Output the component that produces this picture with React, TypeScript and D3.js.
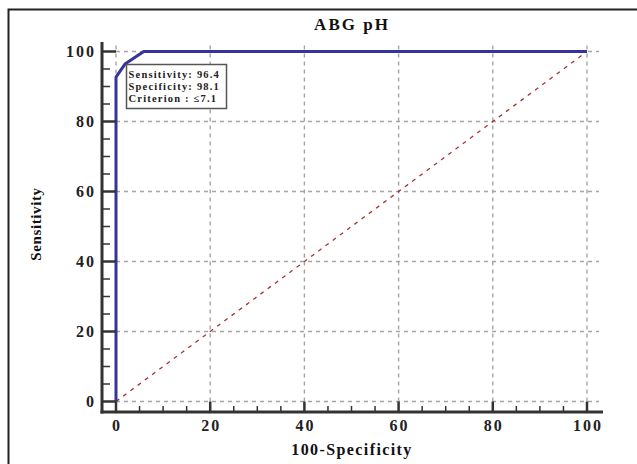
import React from 'react';
import * as d3 from 'd3';

// ROC curve points (100-Specificity, Sensitivity)
const rocX = [0, 0, 1.9, 5.9, 100];
const rocY = [0, 92.7, 96.4, 100, 100];
const majorTicks = [0, 20, 40, 60, 80, 100];
const minorTicks = d3.range(0, 101, 5).filter(v => v % 20 !== 0);
const boxLines = ['Sensitivity: 96.4', 'Specificity: 98.1', 'Criterion : \u22647.1'];
const title = 'ABG pH';
const xTitle = '100-Specificity';
const yTitle = 'Sensitivity';

const W = 637;
const H = 464;
const FONT = '"Liberation Serif", "Times New Roman", serif';

const App = () => {
  const x = d3.scaleLinear().domain([0, 100]).range([116, 587]);
  const y = d3.scaleLinear().domain([0, 100]).range([401.5, 51.5]);
  const axisX = 102;
  const axisY = 412;
  const gridRight = 599;
  const gridTop = 43;

  const rocPts = rocX.map((v, i) => [x(v), y(rocY[i])] as [number, number]);
  const line = d3.line();

  return (
    <svg width={W} height={H} style={{ position: 'absolute', left: 0, top: 0, background: '#fff' }}>
      <rect x={8.5} y={9.5} width={700} height={600} fill="#fff" stroke="#222" strokeWidth={2} />

      <text x={352} y={30} textAnchor="middle" fontFamily={FONT} fontWeight="bold" fontSize={17}
        letterSpacing={2} fill="#111">{title}</text>

      {/* grid */}
      <g stroke="#a5a5a5" strokeWidth={1.4} strokeDasharray="4,4" fill="none">
        {majorTicks.map(t => (
          <line key={'h' + t} x1={x(0)} x2={gridRight} y1={y(t)} y2={y(t)} />
        ))}
        {majorTicks.map(t => (
          <line key={'v' + t} x1={x(t)} x2={x(t)} y1={y(0)} y2={gridTop} />
        ))}
      </g>

      {/* diagonal */}
      <line x1={x(0)} y1={y(0)} x2={x(100)} y2={y(100)} stroke="#a83232" strokeWidth={1.3}
        strokeDasharray="4,5" />

      {/* ROC curve */}
      <path d={line(rocPts) || ''} fill="none" stroke="#34349a" strokeWidth={3} strokeLinejoin="round" />

      {/* axes */}
      <g stroke="#333" fill="none">
        <line x1={axisX} x2={axisX} y1={42} y2={axisY + 1.5} strokeWidth={3} />
        <line x1={axisX - 1.5} x2={603} y1={axisY} y2={axisY} strokeWidth={3} />
        {majorTicks.map(t => (
          <line key={'ym' + t} x1={axisX} x2={x(0)} y1={y(t)} y2={y(t)} strokeWidth={2.5} />
        ))}
        {minorTicks.map(t => (
          <line key={'yn' + t} x1={axisX} x2={110} y1={y(t)} y2={y(t)} strokeWidth={1.5} />
        ))}
        {majorTicks.map(t => (
          <line key={'xm' + t} x1={x(t)} x2={x(t)} y1={axisY} y2={y(0)} strokeWidth={2.5} />
        ))}
        {minorTicks.map(t => (
          <line key={'xn' + t} x1={x(t)} x2={x(t)} y1={axisY} y2={axisY - 6} strokeWidth={1.5} />
        ))}
      </g>

      {/* tick labels */}
      <g fontFamily={FONT} fontWeight="bold" fontSize={16} fill="#222" letterSpacing={2}>
        {majorTicks.map(t => (
          <text key={'yl' + t} x={96} y={y(t) + 5.5} textAnchor="end">{t}</text>
        ))}
        {majorTicks.map(t => (
          <text key={'xl' + t} x={x(t) + 1} y={431} textAnchor="middle">{t}</text>
        ))}
      </g>

      <text x={352} y={455} textAnchor="middle" fontFamily={FONT} fontWeight="bold" fontSize={16}
        letterSpacing={1.4} fill="#111">{xTitle}</text>
      <text transform="translate(41,224) rotate(-90)" textAnchor="middle" fontFamily={FONT}
        fontWeight="bold" fontSize={15} letterSpacing={0.6} fill="#111">{yTitle}</text>

      {/* criterion box */}
      <rect x={126.5} y={64.5} width={100} height={44} fill="#fff" stroke="#555" strokeWidth={1.5} />
      <g fontFamily={FONT} fontWeight="bold" fontSize={10.5} fill="#222" letterSpacing={1.2}>
        {boxLines.map((s, i) => (
          <text key={s} x={128.5} y={77.5 + i * 12.3}>{s}</text>
        ))}
      </g>
    </svg>
  );
};

export default App;
